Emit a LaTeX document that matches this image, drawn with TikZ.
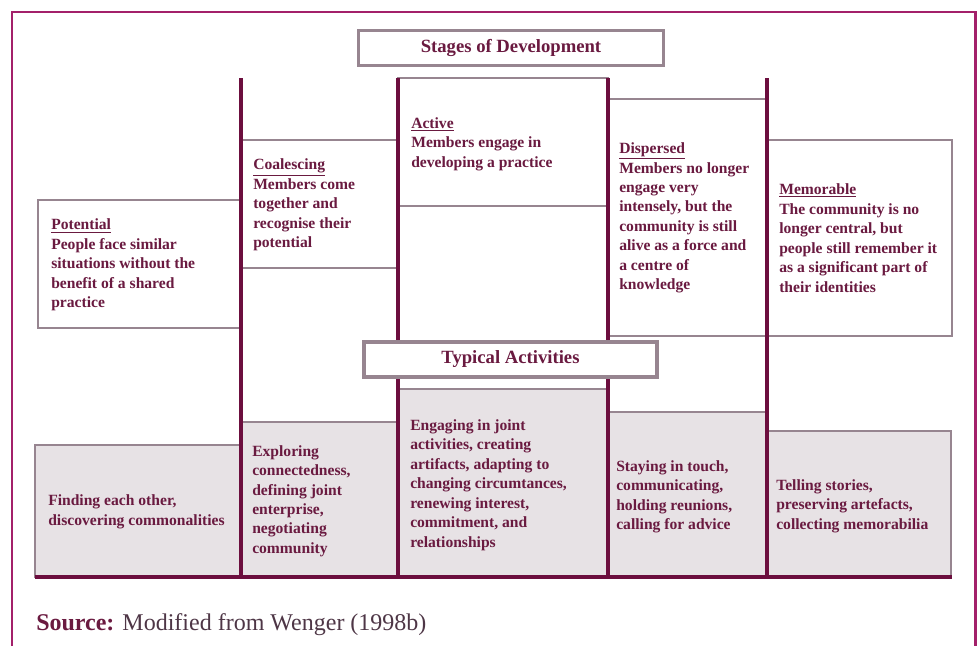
\documentclass[tikz,border=0pt]{standalone}
\usepackage{fontspec}
\setmainfont{Liberation Serif}

\definecolor{framec}{HTML}{A3206A}
\definecolor{barc}{HTML}{6C0E3E}
\definecolor{boxc}{HTML}{978590}
\definecolor{actc}{HTML}{E7E2E5}
\definecolor{txtc}{HTML}{6A1A40}
\definecolor{srcc}{HTML}{4E3646}

\begin{document}
\begin{tikzpicture}[
  x=0.75pt, y=-0.75pt,
  frame/.style={draw=framec, line width=2.2pt},
  stage/.style={draw=boxc, line width=1.2pt, fill=white},
  act/.style={draw=boxc, line width=1.2pt, fill=actc},
  bar/.style={draw=barc, line width=3pt},
  hdrbox/.style={
    draw=boxc,
    line width=2.6pt,
    fill=white,
    minimum width=229pt,
    minimum height=26pt,
    font=\fontsize{14}{16}\selectfont\bfseries,
    text=txtc
  },
  txt/.style={
    anchor=west,
    align=left,
    inner sep=0pt,
    font=\fontsize{11.7}{14.6}\selectfont\bfseries,
    text=txtc
  }
]
\useasboundingbox (0,0) rectangle (977,646);

% -------------------------------------------------
% Column x-positions (dividers)
% -------------------------------------------------
\def\xA{241}
\def\xB{398}
\def\xC{608}
\def\xD{767}
\def\yBase{577}

% -------------------------------------------------
% Outer frame (open at the bottom)
% -------------------------------------------------
\draw[frame] (12,646) -- (12,12) -- (975.5,12) -- (975.5,646);

% -------------------------------------------------
% STAGE BOXES (top steps)
% -------------------------------------------------
\draw[stage] (38,200) rectangle (\xA,328);
\draw[stage] (\xA,140) rectangle (\xB,268);
\draw[stage] (\xB,78) rectangle (\xC,206);
\draw[stage] (\xC,99) rectangle (\xD,336);
\draw[stage] (\xD,140) rectangle (952,336);

% -------------------------------------------------
% ACTIVITY BOXES (bottom steps)
% -------------------------------------------------
\draw[act] (35,445) rectangle (\xA,\yBase);
\draw[act] (\xA,422) rectangle (\xB,\yBase);
\draw[act] (\xB,389) rectangle (\xC,\yBase);
\draw[act] (\xC,412) rectangle (\xD,\yBase);
\draw[act] (\xD,431) rectangle (951,\yBase);

% -------------------------------------------------
% Dividers + base line
% -------------------------------------------------
\foreach \x in {\xA,\xB,\xC,\xD}
  \draw[bar] (\x,78) -- (\x,\yBase);
\draw[bar] (35,\yBase) -- (952,\yBase);

% -------------------------------------------------
% HEADINGS
% -------------------------------------------------
\node[hdrbox] (hStages) at (511,48) {Stages of Development};
\node[hdrbox, minimum width=220pt] (hTypical) at (510.5,359.5) {Typical Activities};

% -------------------------------------------------
% STAGE TEXTS
% -------------------------------------------------
\node[txt] (sPot) at (51,265) {\underline{Potential}\\People face similar\\situations without the\\benefit of a shared\\practice};
\node[txt] (sCoal) at (253,205) {\underline{Coalescing}\\Members come\\together and\\recognise their\\potential};
\node[txt] (sAct) at (411,144) {\underline{Active}\\Members engage in\\developing a practice};
\node[txt] (sDisp) at (619,218) {\underline{Dispersed}\\Members no longer\\engage very\\intensely, but the\\community is still\\alive as a force and\\a centre of\\knowledge};
\node[txt] (sMem) at (779,238) {\underline{Memorable}\\The community is no\\longer central, but\\people still remember it\\as a significant part of\\their identities};

% -------------------------------------------------
% ACTIVITY TEXTS
% -------------------------------------------------
\node[txt] (aFind) at (48,512) {Finding each other,\\discovering commonalities};
\node[txt] (aExpl) at (252,501) {Exploring\\connectedness,\\defining joint\\enterprise,\\negotiating\\community};
\node[txt] (aEng) at (410,485) {Engaging in joint\\activities, creating\\artifacts, adapting to\\changing circumtances,\\renewing interest,\\commitment, and\\relationships};
\node[txt] (aStay) at (616,497) {Staying in touch,\\communicating,\\holding reunions,\\calling for advice};
\node[txt] (aTell) at (776,506) {Telling stories,\\preserving artefacts,\\collecting memorabilia};

% -------------------------------------------------
% SOURCE LINE
% -------------------------------------------------
\node[anchor=base west, inner sep=0pt, font=\fontsize{18}{20}\selectfont, text=srcc] (src) at (36,630)
  {\textcolor{txtc}{\textbf{Source:}} Modified from Wenger (1998b)};

\end{tikzpicture}
\end{document}
